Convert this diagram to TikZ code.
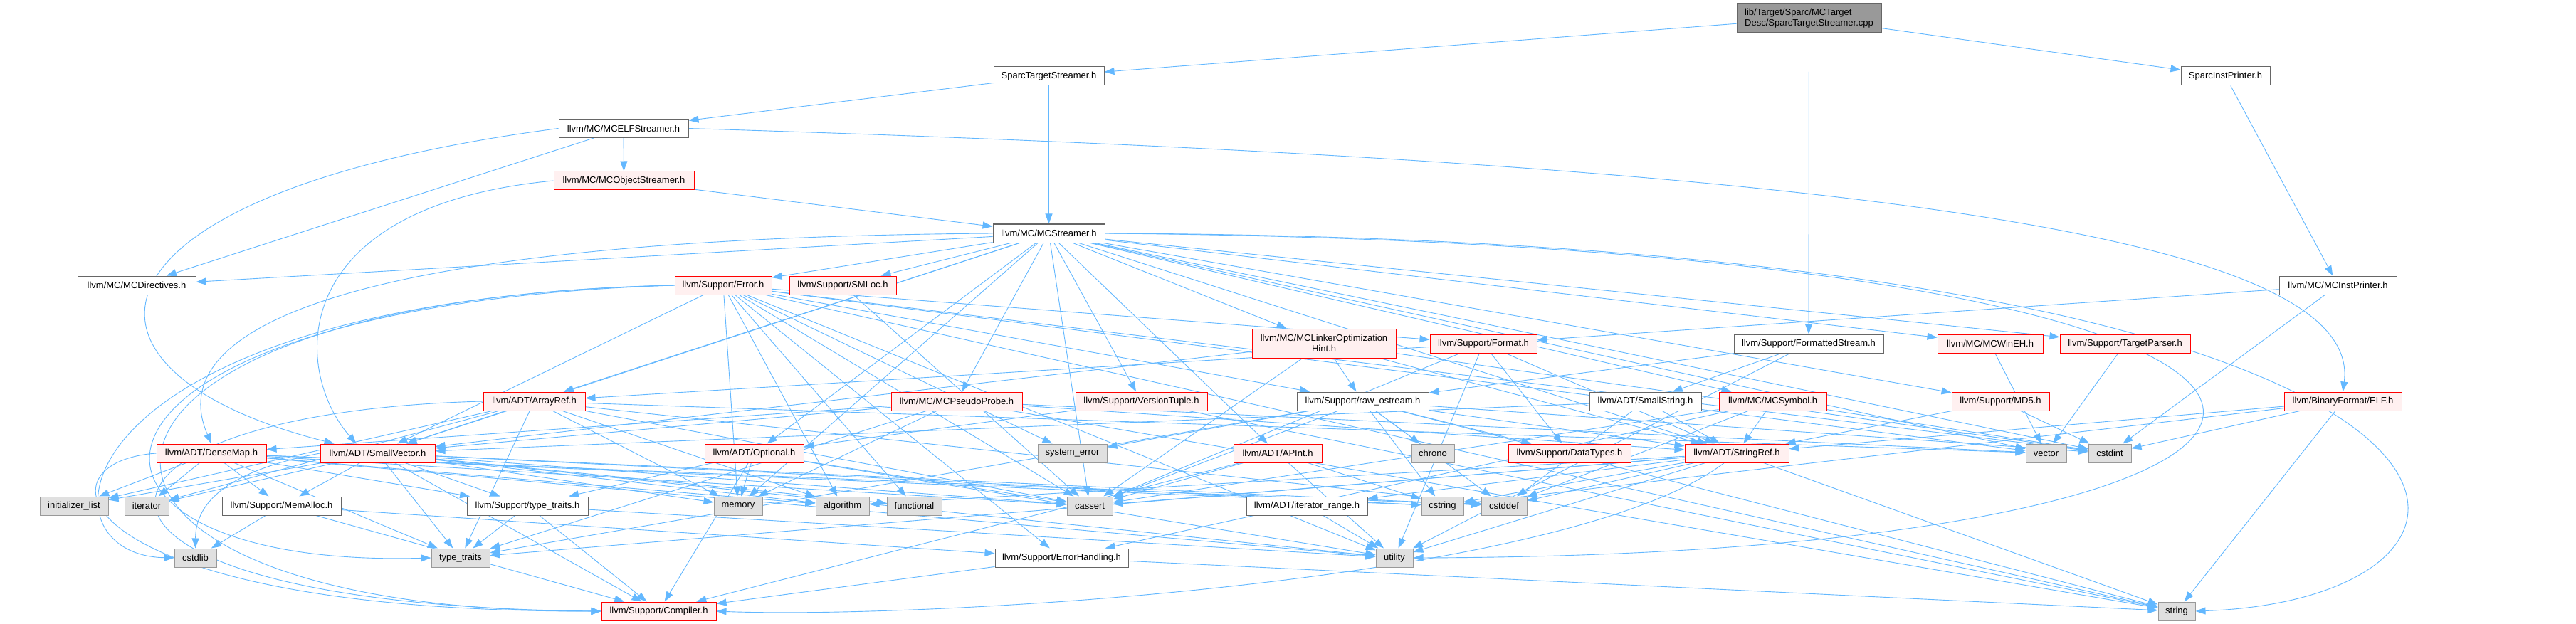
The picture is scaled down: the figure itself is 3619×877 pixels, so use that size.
\documentclass[tikz,border=0pt]{standalone}
\usepackage{fontspec}
\setmainfont{Liberation Sans}
\usetikzlibrary{arrows.meta,backgrounds}
\definecolor{cedge}{HTML}{63B8FF}
\definecolor{cred}{HTML}{FF0000}
\definecolor{cpink}{HTML}{FFF0F0}
\definecolor{cgrayf}{HTML}{E0E0E0}
\definecolor{cgrayd}{HTML}{999999}
\definecolor{cdark}{HTML}{666666}
\begin{document}
\begin{tikzpicture}[x=1pt,y=-1pt,
 box/.style={draw=cdark, fill=white, line width=1pt, minimum height=26pt, inner xsep=3pt, inner ysep=1pt, font=\fontsize{13}{15.5}\selectfont, text=black},
 wbox/.style={box},
 rbox/.style={box, draw=cred, fill=cpink},
 gbox/.style={box, draw=cgrayd, fill=cgrayf},
 mw/.style={minimum width=#1pt},
 e/.style={draw=cedge, line width=0.9pt, -{Triangle[length=14pt,width=10pt]}},
]
\useasboundingbox (0,0) rectangle (3619,877);
% row 0
\node[box, fill=cgrayd, mw=203, minimum height=41pt, align=left] (root) at (2541.5,25.5) {lib/Target/Sparc/MCTarget\\Desc/SparcTargetStreamer.cpp};
% row 1
\node[wbox, mw=155] (stream) at (1473.5,107) {SparcTargetStreamer.h};
\node[wbox, mw=125] (instp) at (3126.5,107) {SparcInstPrinter.h};
\node[wbox, mw=182] (elfs) at (876,180.5) {llvm/MC/MCELFStreamer.h};
\node[rbox, mw=197] (objs) at (876.5,254) {llvm/MC/MCObjectStreamer.h};
\node[wbox, mw=157] (mcs) at (1473.5,328) {llvm/MC/MCStreamer.h};
% row 401
\node[wbox, mw=166] (mcdir) at (192,401) {llvm/MC/MCDirectives.h};
\node[rbox, mw=136] (err) at (1016,401) {llvm/Support/Error.h};
\node[rbox, mw=150] (smloc) at (1184,401) {llvm/Support/SMLoc.h};
\node[wbox, mw=165] (mcinst) at (3284.5,401) {llvm/MC/MCInstPrinter.h};
% row 483
\node[rbox, mw=202, minimum height=41pt, align=center] (loh) at (1860,482.5) {llvm/MC/MCLinkerOptimization\\Hint.h};
\node[rbox, mw=150] (format) at (2084,483) {llvm/Support/Format.h};
\node[wbox, mw=210] (fstream) at (2541,483) {llvm/Support/FormattedStream.h};
\node[rbox, mw=148] (winEH) at (2796,483) {llvm/MC/MCWinEH.h};
\node[rbox, mw=183] (tparser) at (2985.5,483) {llvm/Support/TargetParser.h};
% row 564
\node[rbox, mw=143] (aref) at (750.5,564) {llvm/ADT/ArrayRef.h};
\node[rbox, mw=184] (probe) at (1344,564) {llvm/MC/MCPseudoProbe.h};
\node[rbox, mw=185] (vtuple) at (1603.5,564) {llvm/Support/VersionTuple.h};
\node[wbox, mw=185] (raw) at (1914.5,564) {llvm/Support/raw\_ostream.h};
\node[wbox, mw=157] (sstring) at (2311.5,564) {llvm/ADT/SmallString.h};
\node[rbox, mw=151] (mcsym) at (2490.5,564) {llvm/MC/MCSymbol.h};
\node[rbox, mw=137] (md5) at (2810.5,564) {llvm/Support/MD5.h};
\node[rbox, mw=165] (elf) at (3291.5,564) {llvm/BinaryFormat/ELF.h};
% row 637
\node[rbox, mw=154] (dmap) at (297,637) {llvm/ADT/DenseMap.h};
\node[rbox, mw=161] (svec) at (530.5,637) {llvm/ADT/SmallVector.h};
\node[rbox, mw=139] (opt) at (1059.5,637) {llvm/ADT/Optional.h};
\node[gbox, mw=97] (syserr) at (1506.5,637) {system\_error};
\node[rbox, mw=124] (apint) at (1795,637) {llvm/ADT/APInt.h};
\node[gbox, mw=60] (chrono) at (2013,637) {chrono};
\node[rbox, mw=172] (dtypes) at (2205,637) {llvm/Support/DataTypes.h};
\node[rbox, mw=146] (sref) at (2440,637) {llvm/ADT/StringRef.h};
\node[gbox, mw=57] (vector) at (2874.5,637) {vector};
\node[gbox, mw=60] (cstdint) at (2964,637) {cstdint};
% row 711
\node[gbox, mw=96] (initlist) at (104,711) {initializer\_list};
\node[gbox, mw=62] (iterator) at (206,711) {iterator};
\node[wbox, mw=167] (memalloc) at (395.5,711) {llvm/Support/MemAlloc.h};
\node[wbox, mw=170] (ttraitsh) at (741,711) {llvm/Support/type\_traits.h};
\node[gbox, mw=68] (memory) at (1037,711) {memory};
\node[gbox, mw=75] (algorithm) at (1183.5,711) {algorithm};
\node[gbox, mw=77] (functional) at (1284.5,711) {functional};
\node[gbox, mw=64] (cassert) at (1531,711) {cassert};
\node[wbox, mw=170] (itrange) at (1836,711) {llvm/ADT/iterator\_range.h};
\node[gbox, mw=59] (cstring) at (2026.5,711) {cstring};
\node[gbox, mw=64] (cstddef) at (2113,711) {cstddef};
% row 784
\node[gbox, mw=59] (cstdlib) at (274.5,784) {cstdlib};
\node[gbox, mw=82] (ttraits) at (647,784) {type\_traits};
\node[wbox, mw=187] (errh) at (1491.5,784) {llvm/Support/ErrorHandling.h};
\node[gbox, mw=52] (utility) at (1959,784) {utility};
% row 859
\node[rbox, mw=161] (compiler) at (925.5,859) {llvm/Support/Compiler.h};
\node[gbox, mw=52] (string) at (3058,859) {string};

\begin{pgfonlayer}{background}
\fill[white] (0,0) rectangle (3619,877);
\foreach \h in {stream,fstream,instp} \draw[e] (root) -- (\h);
\draw[e] (stream) -- (elfs);
\draw[e] (stream) -- (mcs);
\draw[e] (instp) -- (mcinst);
\draw[e] (elfs) -- (mcdir);
\draw[e] (elfs) -- (objs);
\draw[e] (elfs.west) .. controls (100,270) and (60,520) .. ([xshift=20pt]svec.north west);
\draw[e] (elfs.east) .. controls (2600,230) and (3320,330) .. (elf.north);
\draw[e] (objs) -- (mcs);
\draw[e] (objs.west) .. controls (400,290) and (410,520) .. ([xshift=-30pt]svec.north);
% MCStreamer
\draw[e] (mcs) -- (mcdir);
\draw[e] (mcs.west) .. controls (450,335) and (230,470) .. (dmap.north);
\foreach \h in {err,smloc,aref,opt,svec,sref,apint,loh,probe,vtuple,mcsym,winEH,tparser,md5,cassert,cstdint,memory,vector} \draw[e] (mcs) -- (\h);
\draw[e] (mcs.east) .. controls (3610,335) and (3612,840) .. (string.east);
\draw[e] (mcs.east) .. controls (3560,345) and (3500,780) .. (utility.east);
% others
\foreach \h in {format,cstdint} \draw[e] (mcinst) -- (\h);
\foreach \h in {sstring,raw,utility} \draw[e] (fstream) -- (\h);
\foreach \h in {svec,errh,format,raw,algorithm,cassert,cstdint,functional,memory,string,syserr,utility,vector} \draw[e] (err) -- (\h);
\draw[e] (err.west) .. controls (80,420) and (40,780) .. (cstdlib.west);
\draw[e] (err.west) .. controls (40,430) and (30,800) .. (ttraits.west);
\draw[e] (err.west) .. controls (10,420) and (0,860) .. (compiler.west);
\draw[e] (smloc) -- (cassert);
\foreach \h in {svec,algorithm,cassert,cstddef,initlist,iterator,memory,ttraits,vector} \draw[e] (aref) -- (\h);
\draw[e] (aref.west) .. controls (60,580) and (20,850) .. (compiler.west);
\foreach \h in {initlist,iterator,memalloc,ttraitsh,ttraits,algorithm,cassert,cstddef,cstring,utility} \draw[e] (dmap) -- (\h);
\draw[e] (dmap.west) .. controls (40,650) and (100,860) .. (compiler.west);
\foreach \h in {compiler,ttraitsh,memalloc,algorithm,cassert,cstddef,cstring,functional,initlist,iterator,memory,ttraits,utility} \draw[e] (svec) -- (\h);
\draw[e] (svec.west) .. controls (330,660) and (275,700) .. (cstdlib.north);
\foreach \h in {compiler,ttraitsh,cassert,memory,utility} \draw[e] (opt) -- (\h);
\foreach \h in {compiler,cassert,cstring,utility} \draw[e] (apint) -- (\h);
\foreach \h in {compiler,errh,cstdlib} \draw[e] (memalloc) -- (\h);
\foreach \h in {compiler,ttraits,utility} \draw[e] (ttraitsh) -- (\h);
\foreach \h in {compiler,string} \draw[e] (errh) -- (\h);
\foreach \h in {itrange,algorithm,cassert,cstddef,cstring,string,ttraits,utility} \draw[e] (sref) -- (\h);
\draw[e] (sref) .. controls (2200,820) and (1300,870) .. (compiler.east);
\draw[e] (itrange) -- (utility);
\foreach \h in {svec,sref,cstddef} \draw[e] (sstring) -- (\h);
\foreach \h in {sref,errh,cassert,cstddef,cstdint} \draw[e] (mcsym) -- (\h);
\foreach \h in {sref,dtypes,cassert,chrono,cstddef,cstdint,cstring,string,syserr,ttraits} \draw[e] (raw) -- (\h);
\foreach \h in {aref,sref,dtypes,cassert,utility} \draw[e] (format) -- (\h);
\foreach \h in {sref,cstdint} \draw[e] (md5) -- (\h);
\draw[e] (winEH) -- (vector);
\draw[e] (tparser) -- (vector);
\foreach \h in {sref,cstdint,cstring,string} \draw[e] (elf) -- (\h);
\foreach \h in {opt,string} \draw[e] (vtuple) -- (\h);
\foreach \h in {dmap,svec,sref,memory,string,ttraits,vector} \draw[e] (probe) -- (\h);
\foreach \h in {svec,sref,raw,cassert,cstdint} \draw[e] (loh) -- (\h);
\end{pgfonlayer}
\end{tikzpicture}
\end{document}
